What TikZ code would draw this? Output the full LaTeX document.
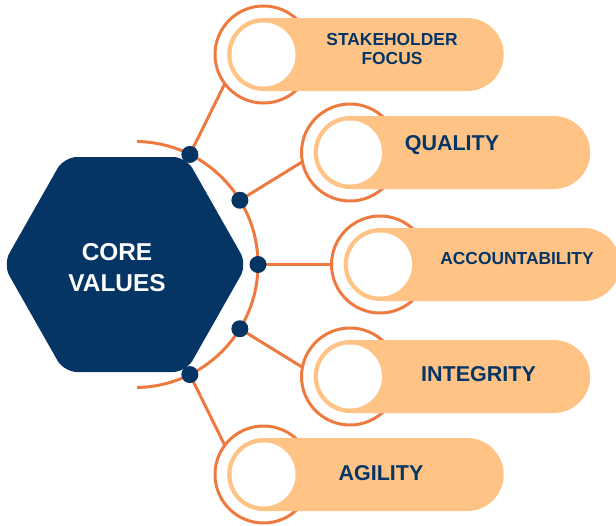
\documentclass[tikz,border=0pt]{standalone}
\usepackage{fontspec}
\setmainfont{Liberation Sans}
\definecolor{navy}{HTML}{053565}
\definecolor{flame}{HTML}{EE7A3F}
\definecolor{peach}{HTML}{FFC385}
\begin{document}
\begin{tikzpicture}[x=1pt,y=-1pt,
  link/.style={flame, line width=3pt},
  hub/.style={circle, fill=navy, inner sep=0pt, minimum size=17pt},
  ring/.style={circle, draw=flame, line width=3pt, fill=white, inner sep=0pt, outer sep=0pt, minimum size=97pt},
  pill/.style={rectangle, fill=peach, rounded corners=36.5pt, inner sep=0pt, minimum width=276.5pt, minimum height=73pt, anchor=west},
  hole/.style={circle, fill=white, inner sep=0pt, minimum size=64pt},
  valtext/.style={text=navy, align=center, inner sep=0pt},
  small/.style={font=\bfseries\fontsize{17.4}{19.7}\selectfont},
  big/.style={font=\bfseries\fontsize{21.5}{24}\selectfont},
]
\useasboundingbox (0,0) rectangle (616,525);

% central hexagon
\coordinate (h1) at (3,264.5);
\coordinate (h2) at (64,157);
\coordinate (h3) at (186,157);
\coordinate (h4) at (247,264.5);
\coordinate (h5) at (186,372);
\coordinate (h6) at (64,372);
\fill[navy, rounded corners=13pt] (h1) -- (h2) -- (h3) -- (h4) -- (h5) -- (h6) -- cycle;
\node[valtext, text=white, font=\bfseries\fontsize{24.4}{30.5}\selectfont] (core) at (117,267.5) {CORE\\VALUES};

% arc around the hexagon
\coordinate (arcc) at (135,264.5);
\draw[link] (arcc) ++(-89:123) arc[start angle=-89, end angle=89, radius=123];

% value items: ring, pill, inner disc, label
\node[ring] (r1) at (263.5,54.5) {};
\node[pill] (p1) at (227,54.5) {};
\node[hole] (w1) at (263.5,54.5) {};
\node[valtext, small] (t1) at (392,49) {STAKEHOLDER\\FOCUS};

\node[ring] (r2) at (350,152.5) {};
\node[pill] (p2) at (313.5,152.5) {};
\node[hole] (w2) at (350,152.5) {};
\node[valtext, big] (t2) at (452,145) {QUALITY};

\node[ring] (r3) at (380,264.5) {};
\node[pill] (p3) at (343.5,264.5) {};
\node[hole] (w3) at (380,264.5) {};
\node[valtext, small] (t3) at (517,258.5) {ACCOUNTABILITY};

\node[ring] (r4) at (350,376.5) {};
\node[pill] (p4) at (313.5,376.5) {};
\node[hole] (w4) at (350,376.5) {};
\node[valtext, big] (t4) at (478.5,374) {INTEGRITY};

\node[ring] (r5) at (263.5,474.5) {};
\node[pill] (p5) at (227,474.5) {};
\node[hole] (w5) at (263.5,474.5) {};
\node[valtext, big] (t5) at (381,473.5) {AGILITY};

% hubs on the arc
\path (arcc) ++(-63.5:123) coordinate (c1);
\path (arcc) ++(-31.5:123) coordinate (c2);
\path (arcc) ++(0:123) coordinate (c3);
\path (arcc) ++(31.5:123) coordinate (c4);
\path (arcc) ++(63.5:123) coordinate (c5);

% connectors
\draw[link] (c1) -- (r1.217);
\draw[link] (c2) -- (r2.191);
\draw[link] (c3) -- (r3.180);
\draw[link] (c4) -- (r4.169);
\draw[link] (c5) -- (r5.143);

\node[hub] (d1) at (c1) {};
\node[hub] (d2) at (c2) {};
\node[hub] (d3) at (c3) {};
\node[hub] (d4) at (c4) {};
\node[hub] (d5) at (c5) {};
\end{tikzpicture}
\end{document}
